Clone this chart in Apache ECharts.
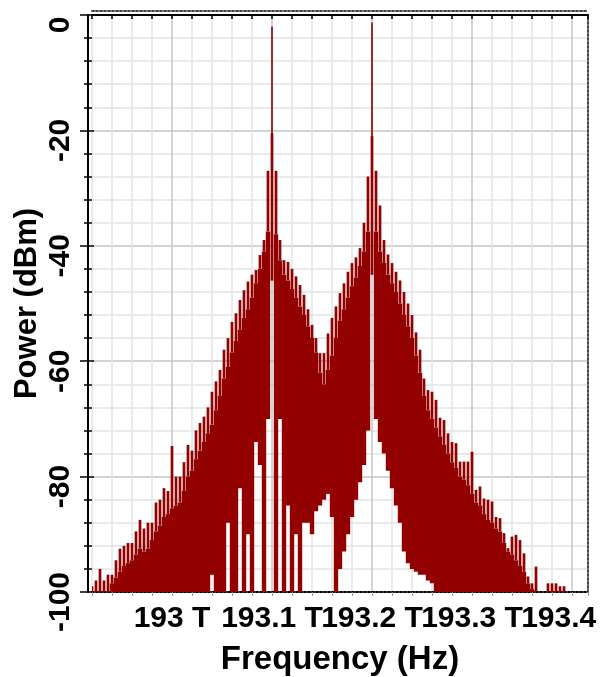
<!DOCTYPE html>
<html>
<head>
<meta charset="utf-8">
<title>Spectrum</title>
<script src="https://cdn.jsdelivr.net/npm/echarts@6/dist/echarts.min.js"></script>
<style>
  html, body { margin: 0; padding: 0; background: #fff; }
  #chart { width: 600px; height: 677px; }
</style>
</head>
<body>
<div id="chart"></div>
<script>
// comb lines, one every 4 GHz starting at 192.92 THz
const spikeStart = 192.92
const spikeStep = 0.004
// top of each line (dBm)
const spikeTop = [
  -99, -98, -96, -98, -97, -97, -94.5, -92.5, -92, -91.5,
  -91.5, -89.5, -87.5, -89, -88, -88, -84.5, -84, -82, -82.5,
  -74.7, -80, -80, -77.5, -74.5, -75.5, -72, -70.7, -69.6, -68,
  -65.3, -63.5, -61.5, -58, -56, -53.2, -51.7, -49.4, -47.7, -46.2,
  -45, -44.2, -41.6, -39, -27, -20.5, -27, -39, -42.5, -42.8,
  -44, -45.3, -46.8, -48.5, -51, -53.7, -56, -58.6, -58.6, -55.2,
  -52.5, -50.5, -48.2, -46.5, -44.5, -43, -42, -40.4, -36, -28,
  -21, -27, -33, -39, -41.5, -43, -44.5, -46, -48, -50,
  -52, -55, -58, -63, -65, -65.3, -66.7, -69.8, -70.2, -72.5,
  -74, -74.2, -77.4, -77.4, -77.4, -75.7, -82.3, -81.7, -83.8, -84,
  -84.3, -87, -87.2, -89.8, -92.4, -90.4, -90.1, -91, -93.3, -97.3,
  -98.5, -95.6, -100, -100, -98.5, -98.5, -98.5, -99, -99,
]
// where the solid part under the lines starts (dBm)
const solidTop = [
  -100, -100, -100, -100, -100, -98.5, -97.5, -96.5, -95.5, -95,
  -94.5, -93.5, -92.5, -93, -92.5, -91, -89.5, -88.5, -87, -86.5,
  -85.5, -85, -84.5, -82.5, -80, -79, -77, -75.5, -74, -72.5,
  -71, -68.5, -66, -63, -61, -58.5, -56.5, -54.5, -52.5, -51,
  -49, -46.5, -44, -41, -37.5, -46, -38, -42.5, -45, -46,
  -47.5, -49, -50.5, -52, -54, -56, -58.5, -62, -64, -61.5,
  -59, -56, -53, -51, -49, -47, -45.5, -43.5, -41, -37.5,
  -45, -37.5, -41, -43, -45, -46.5, -48, -50, -52, -54,
  -56, -59, -62, -66, -68.5, -70, -71.5, -73, -74.5, -76,
  -77.5, -78.5, -80, -80.5, -81.5, -83, -84.5, -85, -86.5, -87.5,
  -88, -89, -89.5, -91.5, -93, -93.5, -94.5, -95.5, -96.5, -98.5,
  -99.5, -100, -100, -100, -100, -100, -100, -100, -100,
]
// where the solid part ends (dBm)
const solidBottom = [
  -100, -100, -100, -100, -100, -100, -100, -100, -100, -100,
  -100, -100, -100, -100, -100, -100, -100, -100, -100, -100,
  -100, -100, -100, -100, -100, -100, -100, -100, -100, -100,
  -97, -100, -100, -100, -88, -100, -100, -82, -100, -90,
  -100, -74, -78, -100, -70, -46, -100, -70, -100, -85,
  -100, -90, -100, -88, -88, -90, -86, -85, -84, -83,
  -87, -100, -96, -93, -90, -87, -84, -81, -78, -72,
  -45, -70, -74, -76, -79, -82, -85, -88, -93, -95,
  -96, -96.5, -97, -97, -98, -98.5, -100, -100, -100, -100,
  -100, -100, -100, -100, -100, -100, -100, -100, -100, -100,
  -100, -100, -100, -100, -100, -100, -100, -100, -100, -100,
  -100, -100, -100, -100, -100, -100, -100, -100, -100,
]
// short lines standing on the floor between and under the peaks
const footFreq = [
  193.136, 193.145, 193.15, 193.158, 193.167, 193.171, 193.175, 193.178,
  193.181, 193.184, 193.188, 193.193, 193.197, 193.204, 193.209, 193.213,
  193.218, 193.222, 193.225, 193.228, 193.231, 193.234, 193.238, 193.244,
  193.251, 193.261,
]
const footTop = [
  -93, -93, -96, -90, -92, -81, -88, -73,
  -84, -86, -90, -84, -80, -88, -80, -86,
  -77, -90, -82, -84, -88, -92, -89, -96,
  -96, -97,
]
// the two carriers
const carrierFreq = [193.1, 193.2]
const carrierTop = [-2, -1.3]
const carrierBase = [-46, -45]

const red = '#930000'
const font = "'Liberation Sans', Arial, sans-serif"

const combData = spikeTop.map(function (v, i) {
  return [spikeStart + i * spikeStep, v, solidTop[i], solidBottom[i]]
})
const footData = footFreq.map(function (f, i) {
  return [f, footTop[i]]
})
const carrierData = carrierFreq.map(function (f, i) {
  return [f, carrierTop[i], carrierBase[i]]
})

function renderComb(params, api) {
  const f = api.value(0)
  const top = api.coord([f, api.value(1)])
  const mid = api.coord([f, api.value(2)])
  const bot = api.coord([f, api.value(3)])
  const w = api.size([spikeStep, 0])[0]
  return {
    type: 'group',
    children: [
      {
        type: 'rect',
        shape: { x: top[0] - w * 0.34, y: top[1], width: w * 0.68, height: Math.max(0, mid[1] - top[1]) },
        style: { fill: red },
      },
      {
        type: 'rect',
        shape: { x: mid[0] - w / 2 - 0.2, y: mid[1], width: w + 0.4, height: Math.max(0, bot[1] - mid[1]) },
        style: { fill: red },
      },
    ],
  }
}

function renderLine(width) {
  return function (params, api) {
    const f = api.value(0)
    const top = api.coord([f, api.value(1)])
    const base = api.coord([f, api.value(2) === undefined ? -100 : api.value(2)])
    return {
      type: 'rect',
      shape: { x: top[0] - width / 2, y: top[1], width: width, height: base[1] - top[1] },
      style: { fill: red },
    }
  }
}

function freqLabel(v) {
  const t = v * 10
  if (Math.abs(t - Math.round(t)) > 1e-6) return ''
  return Math.round(t) / 10 + ' T'
}

const minorX = '#e4e4e4'
const majorX = '#c6c6c6'

const chart = echarts.init(document.getElementById('chart'))
const option = {
  animation: false,
  backgroundColor: '#fff',
  grid: { left: 92, right: 12, top: 15, bottom: 85, outerBoundsMode: 'none', containLabel: false },
  xAxis: [
    {
      type: 'value',
      position: 'bottom',
      min: 192.92,
      max: 193.416,
      interval: 0.02,
      name: 'Frequency (Hz)',
      nameLocation: 'middle',
      nameGap: 51,
      nameTextStyle: { fontSize: 33, fontWeight: 'bold', color: '#000', fontFamily: font },
      axisLine: { show: true, onZero: false, lineStyle: { color: '#000', type: 'dotted', width: 2 } },
      axisTick: { show: true, length: 4, lineStyle: { color: '#999' } },
      axisLabel: {
        formatter: freqLabel,
        fontSize: 30,
        fontWeight: 'bold',
        color: '#000',
        fontFamily: font,
        margin: 12,
        hideOverlap: false,
      },
      splitLine: { show: true, lineStyle: { color: [minorX, minorX, minorX, minorX, majorX], width: 1.5 } },
    },
    {
      type: 'value',
      position: 'top',
      min: 192.92,
      max: 193.416,
      interval: 0.02,
      axisLine: { show: true, onZero: false, lineStyle: { color: '#000', width: 2 } },
      axisTick: { show: true, inside: true, length: 4, lineStyle: { color: '#000', width: 1.5 } },
      axisLabel: { show: false },
      splitLine: { show: false },
    },
    {
      // dotted frame just above the plot
      type: 'value',
      position: 'top',
      offset: 4,
      min: 192.92,
      max: 193.416,
      axisLine: { show: true, onZero: false, lineStyle: { color: '#444', type: 'dotted', width: 2 } },
      axisTick: { show: false },
      axisLabel: { show: false },
      splitLine: { show: false },
    },
  ],
  yAxis: [
    {
      type: 'value',
      position: 'left',
      offset: 4,
      min: -100,
      max: 0,
      interval: 20,
      name: 'Power (dBm)',
      nameLocation: 'middle',
      nameGap: 45,
      nameRotate: 90,
      nameMoveOverlap: false,
      nameTextStyle: { fontSize: 31, fontWeight: 'bold', color: '#000', fontFamily: font },
      axisLine: { show: true, lineStyle: { color: '#000', width: 2 } },
      axisTick: { show: true, length: 8, lineStyle: { color: '#000', width: 1.5 } },
      minorTick: { show: true, splitNumber: 5, length: 4, lineStyle: { color: '#000', width: 1.5 } },
      axisLabel: {
        rotate: 90,
        fontSize: 30,
        fontWeight: 'bold',
        color: '#000',
        fontFamily: font,
        margin: 12,
        padding: [0, 20, 0, 0],
      },
      splitLine: { show: true, lineStyle: { color: majorX, width: 1.5 } },
      minorSplitLine: { show: true, lineStyle: { color: minorX, width: 1.5 } },
    },
    {
      type: 'value',
      position: 'left',
      offset: 4,
      min: -100,
      max: 0,
      interval: 20,
      axisLine: { show: false },
      axisTick: { show: true, inside: true, length: 6, lineStyle: { color: '#000', width: 1.5 } },
      minorTick: { show: true, splitNumber: 5, length: 4, lineStyle: { color: '#000', width: 1.5 } },
      axisLabel: { show: false },
      splitLine: { show: false },
    },
    {
      type: 'value',
      position: 'right',
      min: -100,
      max: 0,
      axisLine: { show: true, lineStyle: { color: '#444', type: 'dotted', width: 2 } },
      axisTick: { show: false },
      axisLabel: { show: false },
      splitLine: { show: false },
    },
  ],
  series: [
    {
      type: 'custom',
      name: 'comb',
      xAxisIndex: 0,
      yAxisIndex: 0,
      clip: true,
      renderItem: renderComb,
      data: combData,
    },
    {
      type: 'custom',
      name: 'floor',
      xAxisIndex: 0,
      yAxisIndex: 0,
      clip: true,
      renderItem: renderLine(2),
      data: footData,
    },
    {
      type: 'custom',
      name: 'carrier',
      xAxisIndex: 0,
      yAxisIndex: 0,
      clip: true,
      renderItem: renderLine(1.6),
      data: carrierData,
    },
  ],
}
chart.setOption(option)
</script>
</body>
</html>
